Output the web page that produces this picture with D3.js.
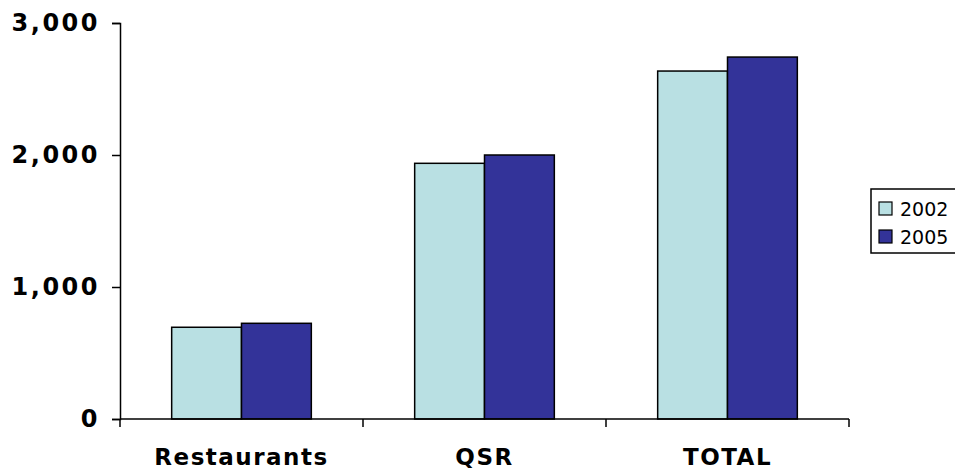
<!DOCTYPE html>
<html>
<head>
<meta charset="utf-8">
<script src="https://cdn.jsdelivr.net/npm/d3@7"></script>
<style>
  body { margin: 0; background: #fff; }
  svg { display: block; }
</style>
</head>
<body>
<div id="chart"></div>
<script>
// Data
const categories = ["Restaurants", "QSR", "TOTAL"];
const years = ["2002", "2005"];
const values2002 = [695, 1937, 2636];
const values2005 = [725, 2000, 2742];
const yTicks = [0, 1000, 2000, 3000];

const colors = ["#B9E0E3", "#333399"];

const W = 955, H = 472;
const plot = { left: 120, right: 849, top: 23, bottom: 419 };

const svg = d3.select("#chart")
    .append("svg")
    .attr("width", W)
    .attr("height", H);

// Scales
const x = d3.scaleBand()
    .domain(categories)
    .range([plot.left, plot.right])
    .paddingInner(0)
    .paddingOuter(0);

const xSub = d3.scaleBand()
    .domain(years)
    .range([0, x.bandwidth()])
    .paddingInner(0)
    .paddingOuter(0.74);

const y = d3.scaleLinear()
    .domain([0, 3000])
    .range([plot.bottom, plot.top]);

const color = d3.scaleOrdinal().domain(years).range(colors);

// Build rows from arrays
const rows = categories.map((c, i) => ({
    cat: c,
    vals: [
        { year: years[0], v: values2002[i] },
        { year: years[1], v: values2005[i] }
    ]
}));

// Bars
svg.append("g")
    .selectAll("g")
    .data(rows)
    .join("g")
    .attr("transform", d => `translate(${x(d.cat)},0)`)
    .selectAll("rect")
    .data(d => d.vals)
    .join("rect")
    .attr("x", d => xSub(d.year))
    .attr("y", d => y(d.v))
    .attr("width", xSub.bandwidth())
    .attr("height", d => y(0) - y(d.v))
    .attr("fill", d => color(d.year))
    .attr("stroke", "#000")
    .attr("stroke-width", 1.5);

// Y axis
const yAxis = svg.append("g")
    .attr("transform", `translate(${plot.left},0)`)
    .call(d3.axisLeft(y).tickValues(yTicks).tickFormat(d3.format(",")).tickSizeOuter(0).tickSize(8).tickPadding(12));
yAxis.select(".domain").attr("stroke", "#000").attr("stroke-width", 1.5);
yAxis.selectAll(".tick line").attr("stroke", "#000").attr("stroke-width", 1.5);
yAxis.selectAll("text")
    .attr("font-family", "DejaVu Sans")
    .attr("font-weight", "bold")
    .attr("font-size", 24)
    .attr("letter-spacing", 2.5)
    .attr("fill", "#000");

// X axis: ticks at the band boundaries
const xAxis = svg.append("g")
    .attr("transform", `translate(0,${plot.bottom})`);
xAxis.append("line")
    .attr("x1", plot.left).attr("x2", plot.right)
    .attr("stroke", "#000").attr("stroke-width", 1.5);
const bounds = categories.map(c => x(c)).concat([x(categories[categories.length - 1]) + x.bandwidth()]);
xAxis.selectAll("line.tick")
    .data(bounds)
    .join("line")
    .attr("class", "tick")
    .attr("x1", d => d).attr("x2", d => d)
    .attr("y1", 0).attr("y2", 8)
    .attr("stroke", "#000").attr("stroke-width", 1.5);
xAxis.selectAll("text")
    .data(categories)
    .join("text")
    .attr("x", d => x(d) + x.bandwidth() / 2)
    .attr("y", 46)
    .attr("text-anchor", "middle")
    .attr("font-family", "DejaVu Sans")
    .attr("font-weight", "bold")
    .attr("font-size", 23)
    .attr("letter-spacing", 1.5)
    .text(d => d);

// Legend
const legend = svg.append("g").attr("transform", "translate(871,189)");
legend.append("rect")
    .attr("width", 100).attr("height", 64)
    .attr("fill", "#fff").attr("stroke", "#000").attr("stroke-width", 1.5);
const items = legend.selectAll("g.item")
    .data(years)
    .join("g")
    .attr("class", "item")
    .attr("transform", (d, i) => `translate(8,${13 + i * 28})`);
items.append("rect")
    .attr("width", 13).attr("height", 13)
    .attr("fill", d => color(d))
    .attr("stroke", "#000").attr("stroke-width", 1.2);
items.append("text")
    .attr("x", 21).attr("y", 7)
    .attr("dy", "0.36em")
    .attr("font-family", "DejaVu Sans")
    .attr("font-size", 19)
    .text(d => d);
</script>
</body>
</html>
